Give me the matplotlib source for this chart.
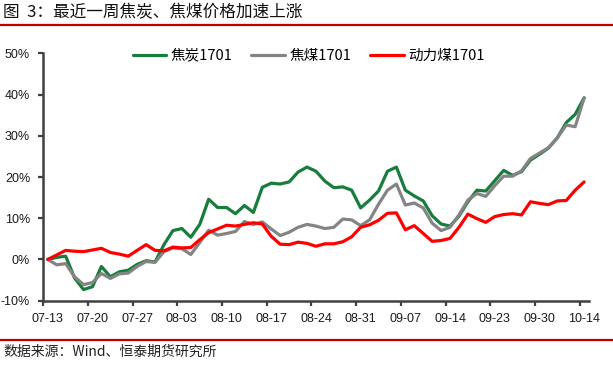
import numpy as np
import matplotlib
matplotlib.use("Agg")
import matplotlib.pyplot as plt
from matplotlib.lines import Line2D

plt.rcParams['axes.unicode_minus'] = False
CJK = ['Noto Sans CJK SC', 'DejaVu Sans']

# ---- data (% change since 07-13, trading days) ----
tick_labels = ['07-13', '07-20', '07-27', '08-03', '08-10', '08-17', '08-24',
               '08-31', '09-07', '09-14', '09-23', '09-30', '10-14']
label_step = 5

coke = [0, 0.5, 0.8, -4.5, -7.3, -6.6, -1.7, -4.2, -3.0, -2.6,
        -1.2, -0.3, -0.6, 3.6, 7.0, 7.5, 5.4, 8.5, 14.6, 12.6,
        12.6, 11.1, 13.1, 11.4, 17.5, 18.5, 18.3, 18.8, 21.2, 22.4,
        21.4, 19.0, 17.4, 17.6, 16.8, 12.5, 14.4, 16.6, 21.4, 22.4,
        16.8, 15.4, 14.2, 10.6, 8.6, 8.1, 10.5, 14.0, 16.8, 16.6,
        19.1, 21.6, 20.4, 21.3, 24.1, 25.5, 27.0, 29.5, 33.2, 35.2,
        39.2]
coking_coal = [0, -1.3, -1.0, -4.2, -6.1, -5.6, -3.4, -4.6, -3.5, -3.3,
               -1.7, -0.5, -0.7, 1.9, 2.8, 2.6, 1.2, 4.1, 7.1, 5.9,
               6.3, 6.8, 9.2, 8.5, 9.1, 7.4, 5.8, 6.6, 7.8, 8.5,
               8.1, 7.5, 7.8, 9.8, 9.6, 8.2, 9.6, 13.4, 16.8, 18.3,
               13.2, 13.7, 12.5, 8.8, 7.0, 7.8, 10.8, 14.4, 16.0, 15.3,
               17.9, 20.2, 20.2, 21.5, 24.5, 25.8, 27.1, 29.5, 32.6, 32.2,
               39.2]
thermal_coal = [0, 1.1, 2.2, 2.0, 1.9, 2.3, 2.7, 1.7, 1.3, 0.8,
                2.2, 3.6, 2.2, 2.1, 3.0, 2.8, 2.9, 4.8, 6.5, 7.4,
                8.3, 8.1, 8.5, 8.9, 8.6, 5.6, 3.7, 3.6, 4.2, 3.9,
                3.2, 3.8, 3.8, 4.3, 5.5, 7.8, 8.4, 9.5, 11.2, 11.3,
                7.2, 8.2, 6.3, 4.4, 4.6, 5.1, 7.8, 11.0, 9.9, 9.0,
                10.4, 10.9, 11.1, 10.8, 14.0, 13.6, 13.3, 14.2, 14.3, 16.8,
                18.8]
series_names = ['焦炭1701', '焦煤1701', '动力煤1701']
y_ticks = [-10, 0, 10, 20, 30, 40, 50]

W, H = 613, 365
fig = plt.figure(figsize=(W / 100, H / 100), dpi=100)
ax = fig.add_axes([43.3 / W, 1 - 300.7 / H, (588.6 - 43.3) / W, (300.7 - 53.3) / H])

x = np.arange(len(coke))
colors = ['#187C3C', '#848484', '#FF0000']
for data, name, c in zip([coke, coking_coal, thermal_coal], series_names, colors):
    ax.plot(x, data, color=c, lw=2.3, label=name, solid_joinstyle='round',
            solid_capstyle='round')

ax.set_xlim(-0.5, len(coke) - 0.5)
ax.set_ylim(y_ticks[0], y_ticks[-1])
ax.set_yticks(y_ticks)
ax.set_yticklabels([f'{v}%' for v in y_ticks])

label_pos = np.arange(0, len(coke), label_step)
ax.set_xticks(label_pos)
ax.set_xticklabels(tick_labels)
ax.set_xticks(label_pos - 0.5, minor=True)
ax.tick_params(axis='x', which='major', length=0, pad=9)
ax.tick_params(axis='x', which='minor', length=3.5, width=1.6, color='#404040', direction='out')
ax.tick_params(axis='y', length=3.5, width=1.6, color='#404040', direction='out', pad=6)
for lab in ax.get_xticklabels() + ax.get_yticklabels():
    lab.set_family(['Liberation Sans', 'DejaVu Sans'])
    lab.set_fontsize(9)
    lab.set_color('#1a1a1a')

for s in ['top', 'right']:
    ax.spines[s].set_visible(False)
for s in ['left', 'bottom']:
    ax.spines[s].set_color('#404040')
    ax.spines[s].set_linewidth(1.8)

fig.legend(loc='center', bbox_to_anchor=(308.5 / W, 1 - 55.7 / H), ncol=3, frameon=False,
           prop={'family': CJK, 'size': 10.5}, handlelength=2.3, handletextpad=0.3,
           columnspacing=1.3)

fig.text(3 / W, 1 - 13 / H, '图  3：最近一周焦炭、焦煤价格加速上涨', fontsize=12,
         va='center', ha='left', family=CJK, color='#111111')
fig.add_artist(Line2D([0, 1], [1 - 25 / H] * 2, color='#C00000', lw=1.6))
fig.add_artist(Line2D([0, 1], [1 - 340 / H] * 2, color='#C00000', lw=1.6))
fig.text(3 / W, 1 - 352 / H, '数据来源：Wind、恒泰期货研究所', fontsize=10,
         va='center', ha='left', family=CJK, color='#222222')

fig.savefig('out.png', dpi=100)
